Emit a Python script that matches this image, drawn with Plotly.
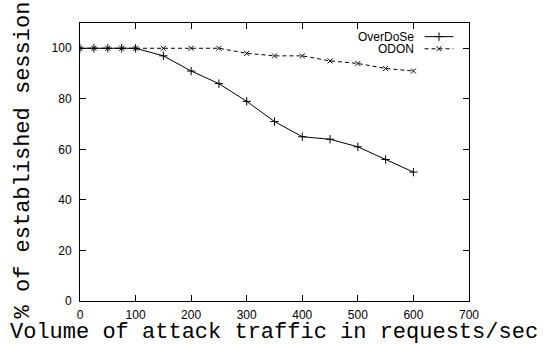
import plotly.graph_objects as go

# ---- data ----
attack_rate = [0, 25, 50, 75, 100, 150, 200, 250, 300, 350, 400, 450, 500, 550, 600]
overdose = [100, 100, 100, 100, 100, 97, 91, 86, 79, 71, 65, 64, 61, 56, 51]
odon = [100, 100, 100, 100, 100, 100, 100, 100, 98, 97, 97, 95, 94, 92, 91]
x_ticks = [0, 100, 200, 300, 400, 500, 600, 700]
y_ticks = [0, 20, 40, 60, 80, 100]
series_names = ["OverDoSe", "ODON"]

fig = go.Figure()
fig.add_trace(go.Scatter(
    x=attack_rate, y=overdose, mode="lines+markers", name=series_names[0],
    line=dict(color="black", width=1),
    marker=dict(symbol="cross-thin", size=6, line=dict(color="black", width=1)),
    showlegend=False))
fig.add_trace(go.Scatter(
    x=attack_rate, y=odon, mode="lines+markers", name=series_names[1],
    line=dict(color="black", width=1, dash="4px,3px"),
    marker=dict(symbol="x-thin", size=5, line=dict(color="black", width=1)),
    showlegend=False))

# ---- gnuplot-style key (text left, sample right) ----
key_rows = [(104.6, "solid", "cross-thin", 6), (99.8, "4px,3px", "x-thin", 5)]
for (ky, dash, sym, sz), name in zip(key_rows, series_names):
    fig.add_annotation(x=605, y=ky, xref="x", yref="y", text=name, showarrow=False,
                       xanchor="right", yanchor="middle",
                       font=dict(family="Liberation Sans, Arial", size=12, color="black"))
    fig.add_shape(type="line", x0=620, x1=672, y0=ky, y1=ky, xref="x", yref="y",
                  line=dict(color="black", width=1, dash=dash))
    fig.add_trace(go.Scatter(x=[646], y=[ky], mode="markers", showlegend=False,
                             hoverinfo="skip",
                             marker=dict(symbol=sym, size=sz, line=dict(color="black", width=1))))

axis_font = dict(family="Liberation Sans, Arial", size=12, color="black")
fig.update_xaxes(range=[0, 700], tickvals=x_ticks, ticks="inside", ticklen=6,
                 tickcolor="black", showline=True, linecolor="black", linewidth=1,
                 mirror="ticks", showgrid=False, zeroline=False, tickfont=axis_font,
                 ticklabelstandoff=3)
fig.update_yaxes(range=[0, 110], tickvals=y_ticks, ticks="inside", ticklen=6,
                 tickcolor="black", showline=True, linecolor="black", linewidth=1,
                 mirror="ticks", showgrid=False, zeroline=True, zerolinecolor="black",
                 zerolinewidth=1, tickfont=axis_font, ticklabelstandoff=5)

title_font = dict(family="Liberation Mono, Courier New", size=22, color="black")
fig.add_annotation(text="Volume of attack traffic in requests/sec", xref="paper", yref="paper",
                   x=0.4987, y=-0.113, xanchor="center", yanchor="middle",
                   showarrow=False, font=title_font)
fig.add_annotation(text="% of established sessions", xref="paper", yref="paper",
                   x=-0.1465, y=-0.07, xanchor="center", yanchor="bottom", textangle=-90,
                   showarrow=False, font=title_font)

fig.update_layout(width=548, height=345, margin=dict(l=80, r=79, t=23, b=44),
                  paper_bgcolor="white", plot_bgcolor="white")
fig.write_html("out.html")
